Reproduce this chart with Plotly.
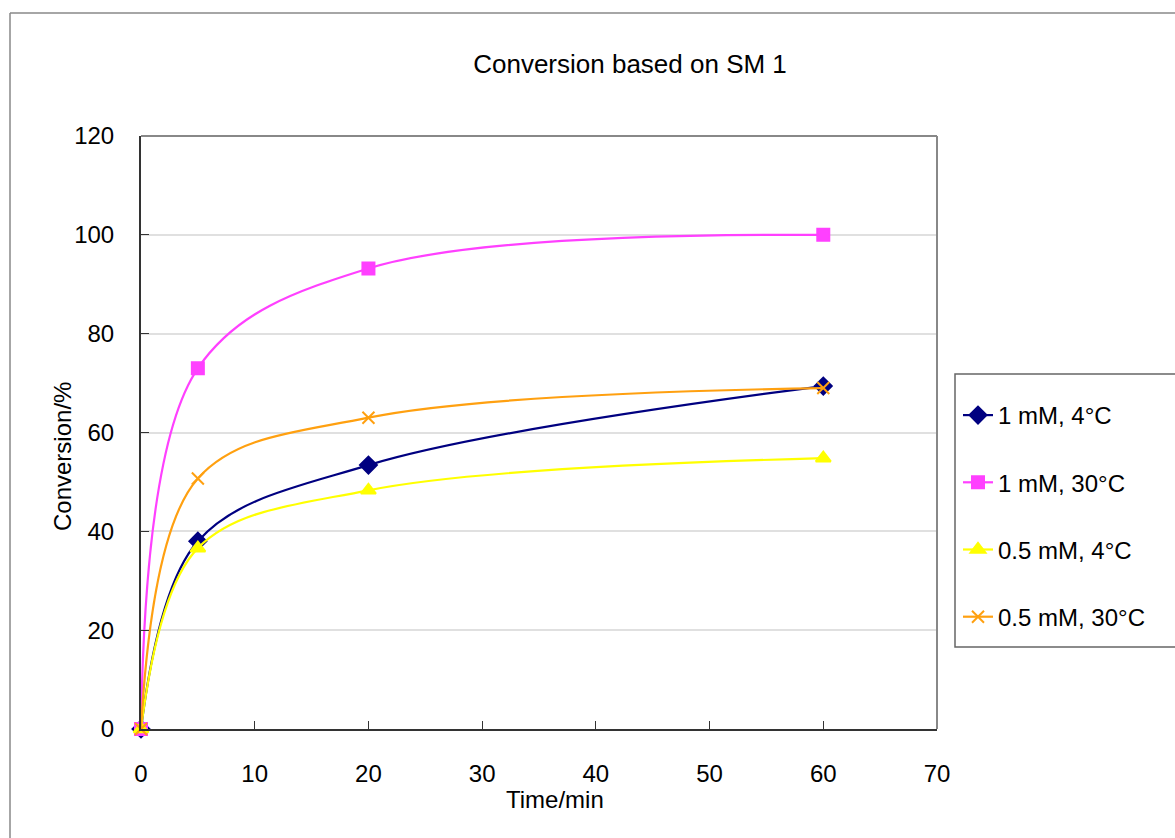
import plotly.graph_objects as go

time_min = [0, 5, 20, 60]
s1_name = "1 mM, 4°C"
s1 = [0, 38.0, 53.4, 69.4]
s2_name = "1 mM, 30°C"
s2 = [0, 73.0, 93.2, 100.0]
s3_name = "0.5 mM, 4°C"
s3 = [0, 36.6, 48.3, 54.8]
s4_name = "0.5 mM, 30°C"
s4 = [0, 50.7, 63.0, 69.0]

x_ticks = [0, 10, 20, 30, 40, 50, 60, 70]
y_ticks = [0, 20, 40, 60, 80, 100, 120]

FONT = "Liberation Sans, Arial, sans-serif"

series = [
    (s1_name, s1, "#000080", "diamond", 13),
    (s2_name, s2, "#FF40FF", "square", 12),
    (s3_name, s3, "#FFFF00", "triangle-up", 13),
    (s4_name, s4, "#FFA010", "x-thin-open", 12),
]

fig = go.Figure()
for i, (name, vals, col, sym, sz) in enumerate(series):
    fig.add_trace(go.Scatter(
        x=time_min, y=vals, name=name, mode="lines+markers",
        line=dict(color=col, width=2.2, shape="spline", smoothing=1.0),
        marker=dict(symbol=sym, size=sz, color=col,
                    line=dict(color=col, width=2)),
        legendgroup=f"g{i}", cliponaxis=False,
    ))

L, R, T, B = 141, 238, 136, 109
pw, ph = 1175 - L - R, 838 - T - B


def px(x):
    return (x - L) / pw


def py(y):
    return (729 - y) / ph


fig.update_layout(
    width=1175, height=838,
    margin=dict(l=L, r=R, t=T, b=B),
    paper_bgcolor="white", plot_bgcolor="white",
    font=dict(family=FONT, color="black"),
    title=dict(text="Conversion based on SM 1", x=630 / 1175, xanchor="center",
               y=1 - 64 / 838, yanchor="middle", font=dict(size=26)),
    xaxis=dict(range=[0, 70], tickvals=x_ticks, ticks="inside", ticklen=8,
               tickcolor="#333", showline=True, linecolor="#333", linewidth=2,
               showgrid=False, zeroline=False, tickfont=dict(size=24),
               ticklabelstandoff=22),
    yaxis=dict(range=[0, 120], tickvals=y_ticks, ticks="inside", ticklen=8,
               tickcolor="#333", showline=True, linecolor="#333", linewidth=2,
               showgrid=True, gridcolor="#e0e0e0", gridwidth=2, zeroline=False,
               tickfont=dict(size=24), ticklabelstandoff=20),
    legend=dict(x=px(958), xanchor="left", y=py(393), yanchor="top",
                borderwidth=0, bgcolor="rgba(0,0,0,0)",
                font=dict(size=24), tracegroupgap=33, traceorder="grouped"),
    annotations=[
        dict(text="Time/min", xref="paper", yref="paper", x=px(555), y=py(800),
             xanchor="center", yanchor="middle", showarrow=False,
             font=dict(size=24)),
        dict(text="Conversion/%", xref="paper", yref="paper", x=px(62), y=py(457),
             xanchor="center", yanchor="middle", showarrow=False, textangle=-90,
             font=dict(size=24)),
    ],
    shapes=[
        dict(type="line", xref="paper", yref="paper", x0=1, x1=1, y0=0, y1=1,
             line=dict(color="#888", width=2)),
        dict(type="line", xref="paper", yref="paper", x0=0, x1=1, y0=1, y1=1,
             line=dict(color="#888", width=2)),
        dict(type="line", xref="paper", yref="paper", x0=px(10), x1=px(1180),
             y0=py(13), y1=py(13), line=dict(color="#888", width=1.5)),
        dict(type="line", xref="paper", yref="paper", x0=px(10), x1=px(10),
             y0=py(13), y1=py(845), line=dict(color="#888", width=1.5)),
        dict(type="rect", xref="paper", yref="paper", x0=px(955), x1=px(1185),
             y0=py(647), y1=py(374), line=dict(color="#666", width=1.5),
             fillcolor="rgba(0,0,0,0)", layer="below"),
    ],
)

fig.write_html("out.html")
